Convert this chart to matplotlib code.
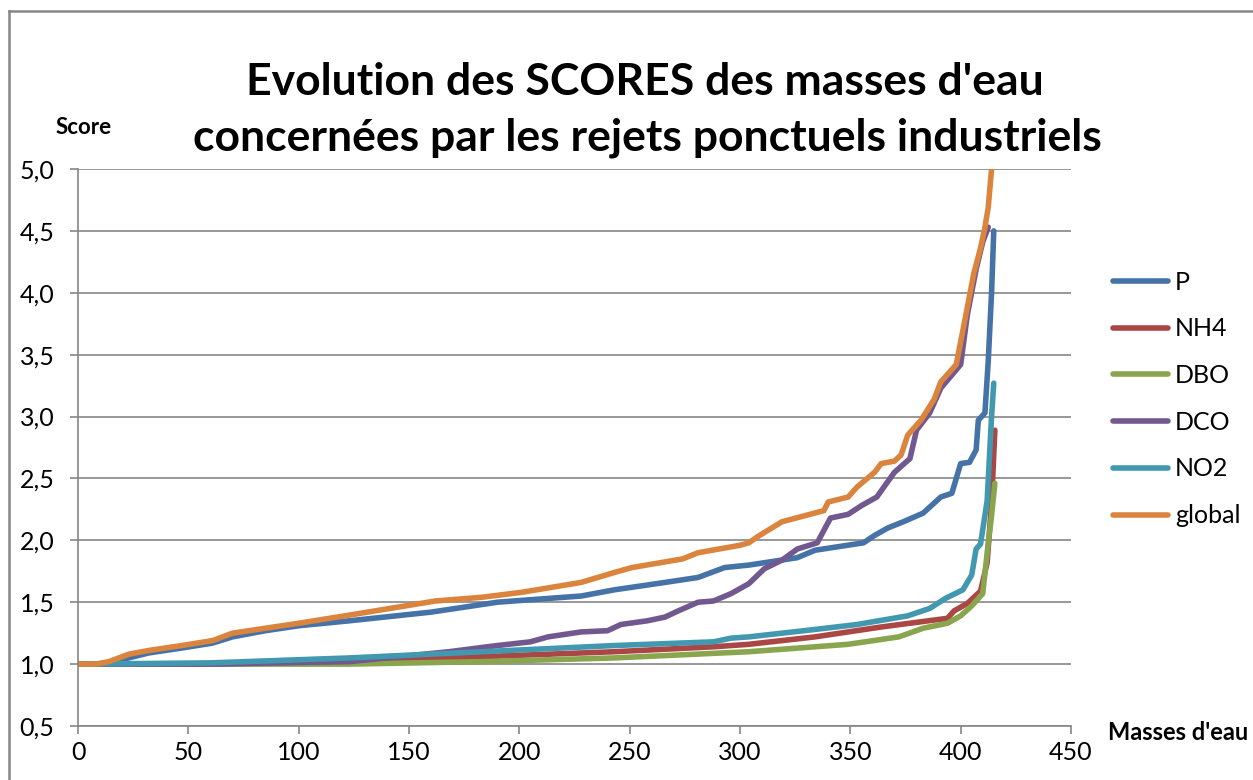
import matplotlib

matplotlib.use("Agg")

import matplotlib.pyplot as plt
from matplotlib.lines import Line2D
from matplotlib.ticker import FuncFormatter, MultipleLocator

# sorted scores, one (x, y) list per series
p_x = [0, 8, 14, 23, 32, 47, 61, 70, 85, 100, 123, 160, 190, 205, 228, 243, 266, 281, 293, 304,
       326, 334, 356, 361, 367, 374, 383, 391, 396, 400, 404, 407, 408, 411, 412.5, 414, 415]
p_y = [1.00, 1.00, 1.01, 1.05, 1.09, 1.13, 1.17, 1.22, 1.27, 1.31, 1.35, 1.42, 1.50, 1.52, 1.55, 1.60, 1.66, 1.70, 1.78, 1.80,
       1.86, 1.92, 1.98, 2.04, 2.10, 2.15, 2.22, 2.35, 2.38, 2.62, 2.63, 2.73, 2.97, 3.03, 3.45, 4.00, 4.50]

nh4_x = [0, 60, 123, 183, 243, 288, 304, 334, 364, 394, 397, 403, 409, 412, 414, 415.5]
nh4_y = [1.00, 1.00, 1.02, 1.06, 1.10, 1.14, 1.16, 1.22, 1.30, 1.37, 1.43, 1.49, 1.59, 1.82, 2.30, 2.89]

dbo_x = [0, 123, 183, 243, 304, 349, 372, 383, 394, 400, 405, 410, 412, 414, 415.5]
dbo_y = [1.00, 1.00, 1.02, 1.05, 1.10, 1.16, 1.22, 1.29, 1.33, 1.39, 1.47, 1.57, 1.90, 2.20, 2.46]

dco_x = [0, 60, 123, 168, 190, 205, 213, 228, 240, 246, 258, 266, 272, 281, 288, 296, 304, 311,
         319, 326, 335, 341, 349, 355, 362, 370, 377, 380, 386, 391, 400, 403, 407, 410, 412.5]
dco_y = [1.00, 1.00, 1.02, 1.10, 1.15, 1.18, 1.22, 1.26, 1.27, 1.32, 1.35, 1.38, 1.43, 1.50, 1.51, 1.57, 1.65, 1.77,
         1.84, 1.93, 1.98, 2.18, 2.21, 2.28, 2.35, 2.55, 2.66, 2.89, 3.03, 3.23, 3.42, 3.82, 4.19, 4.41, 4.53]

no2_x = [0, 60, 123, 183, 243, 288, 296, 304, 334, 353, 376, 386, 393, 401, 405, 407, 409, 412, 414, 415]
no2_y = [1.00, 1.01, 1.05, 1.10, 1.15, 1.18, 1.21, 1.22, 1.28, 1.32, 1.39, 1.45, 1.53, 1.60, 1.72, 1.93, 1.97, 2.32, 3.00, 3.27]

global_x = [0, 8, 14, 23, 32, 47, 61, 70, 85, 100, 121, 138, 162, 183, 201, 228, 243, 251, 274, 281, 300, 304,
            308, 319, 338, 340, 349, 353, 361, 364, 370, 373, 376, 382, 388, 391, 398, 403, 406, 409, 411, 412.5, 414, 415]
global_y = [1.00, 1.00, 1.02, 1.08, 1.11, 1.15, 1.19, 1.25, 1.29, 1.33, 1.39, 1.44, 1.51, 1.54, 1.58, 1.66, 1.74, 1.78, 1.85, 1.90, 1.96, 1.98,
            2.03, 2.15, 2.24, 2.31, 2.35, 2.43, 2.55, 2.62, 2.64, 2.69, 2.85, 2.97, 3.14, 3.28, 3.42, 3.88, 4.16, 4.36, 4.53, 4.69, 5.00, 5.30]

GREY = "#868686"
SERIES = [
    ("P", p_x, p_y, "#4572A7"),
    ("NH4", nh4_x, nh4_y, "#AA4643"),
    ("DBO", dbo_x, dbo_y, "#89A54E"),
    ("DCO", dco_x, dco_y, "#71588F"),
    ("NO2", no2_x, no2_y, "#4198AF"),
    ("global", global_x, global_y, "#DB843D"),
]

plt.rcParams["font.family"] = ["Lato", "DejaVu Sans"]

W, H = 1253, 780
fig = plt.figure(figsize=(W / 100, H / 100), dpi=100)
ax = fig.add_axes([78 / W, 1 - 726 / H, (1071 - 78) / W, (726 - 169) / H])

for name, xs, ys, color in SERIES:
    ax.plot(xs, ys, color=color, linewidth=4.0, label=name,
            solid_capstyle="round", solid_joinstyle="round")

ax.set_xlim(0, 450)
ax.set_ylim(0.5, 5.0)
ax.xaxis.set_major_locator(MultipleLocator(50))
ax.yaxis.set_major_locator(MultipleLocator(0.5))
ax.yaxis.set_major_formatter(FuncFormatter(lambda v, _: f"{v:.1f}".replace(".", ",")))

ax.grid(axis="y", color=GREY, linewidth=1.2)
ax.set_axisbelow(True)
for side in ("top", "right"):
    ax.spines[side].set_visible(False)
for side in ("left", "bottom"):
    ax.spines[side].set_color(GREY)
    ax.spines[side].set_linewidth(1.2)
ax.tick_params(axis="both", colors=GREY, length=6, width=1.2, labelcolor="black", labelsize=18)
ax.tick_params(axis="y", pad=11)
ax.tick_params(axis="x", pad=5)

fig.text(645 / W, 1 - 82 / H, "Evolution des SCORES des masses d'eau",
         ha="center", va="center", fontsize=32, fontweight="bold")
fig.text(647 / W, 1 - 138 / H, "concernées par les rejets ponctuels industriels",
         ha="center", va="center", fontsize=32, fontweight="bold")
fig.text(84 / W, 1 - 127 / H, "Score", ha="center", va="center", fontsize=16, fontweight="bold")
fig.text(1178 / W, 1 - 733 / H, "Masses d'eau", ha="center", va="center", fontsize=17, fontweight="bold")

fig.legend(loc="upper left", bbox_to_anchor=(1090 / W, 1 - 248 / H), frameon=False,
           fontsize=18, handlelength=2.2, handletextpad=0.3, labelspacing=0.95)

# chart area border (cut off on the right and bottom)
fig.add_artist(Line2D([9 / W, 9 / W], [0, 1 - 11 / H], color=GREY, linewidth=1.8))
fig.add_artist(Line2D([9 / W, 1], [1 - 11 / H, 1 - 11 / H], color=GREY, linewidth=1.8))

fig.savefig("out.png", dpi=100)
plt.close(fig)
